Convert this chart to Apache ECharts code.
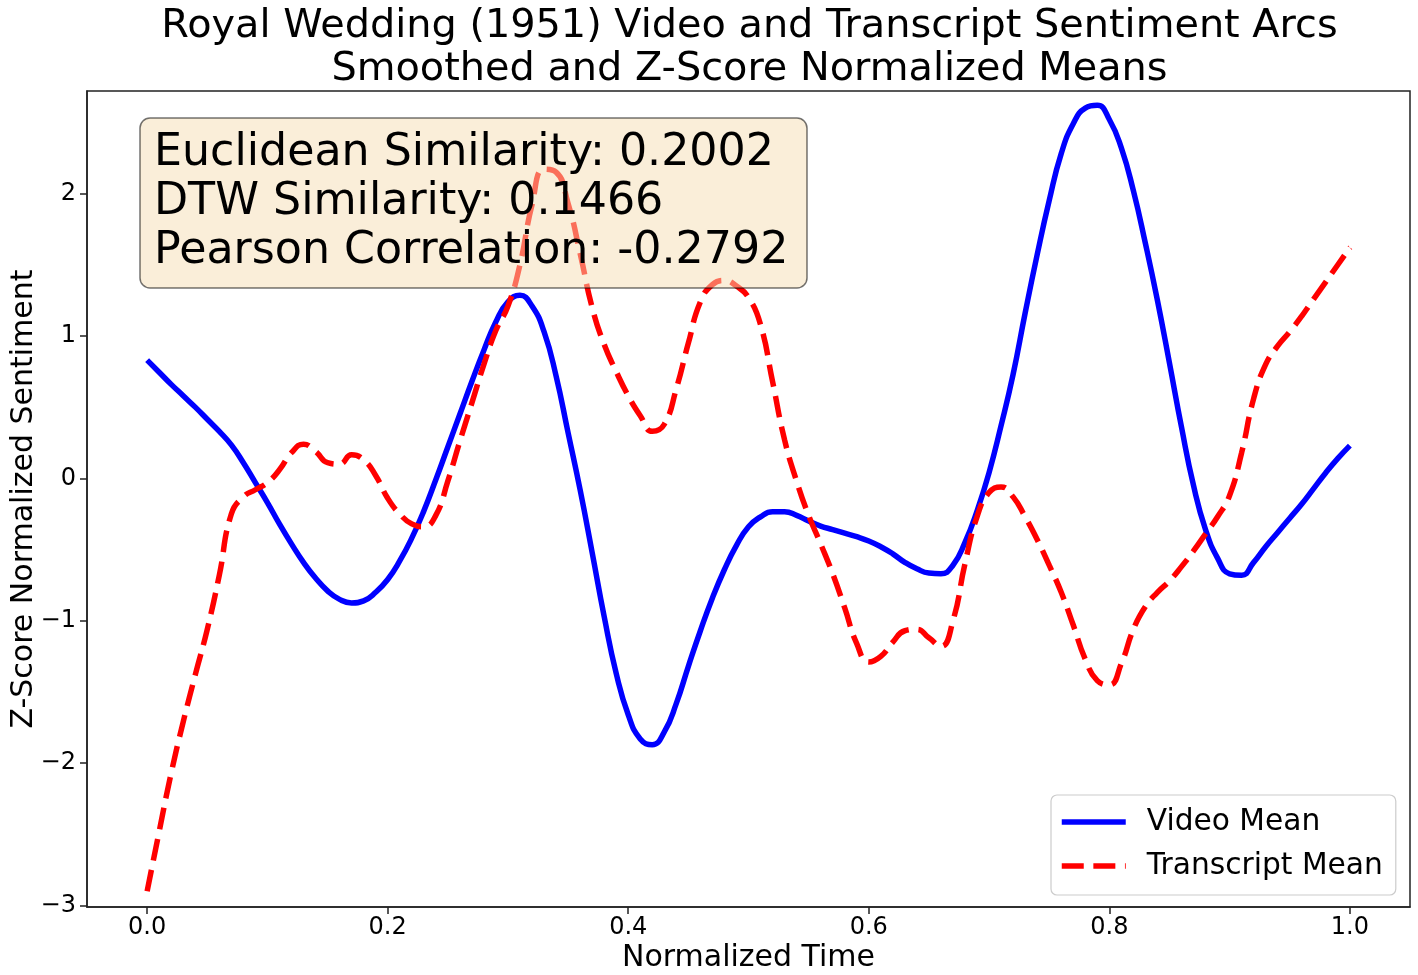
<!DOCTYPE html>
<html>
<head>
<meta charset="utf-8">
<script src="https://cdn.jsdelivr.net/npm/echarts@6/dist/echarts.min.js"></script>
<style>
  html, body { margin: 0; padding: 0; background: #ffffff; }
  #chart { width: 1418px; height: 975px; }
</style>
</head>
<body>
<div id="chart"></div>
<script>
// normalized time grid
const times = [
  0.00, 0.01, 0.02, 0.03, 0.04, 0.05, 0.06, 0.07, 0.08, 0.09,
  0.10, 0.11, 0.12, 0.13, 0.14, 0.15, 0.16, 0.17, 0.18, 0.19,
  0.20, 0.21, 0.22, 0.23, 0.24, 0.25, 0.26, 0.27, 0.28, 0.29,
  0.30, 0.31, 0.32, 0.33, 0.34, 0.35, 0.36, 0.37, 0.38, 0.39,
  0.40, 0.41, 0.42, 0.43, 0.44, 0.45, 0.46, 0.47, 0.48, 0.49,
  0.50, 0.51, 0.52, 0.53, 0.54, 0.55, 0.56, 0.57, 0.58, 0.59,
  0.60, 0.61, 0.62, 0.63, 0.64, 0.65, 0.66, 0.67, 0.68, 0.69,
  0.70, 0.71, 0.72, 0.73, 0.74, 0.75, 0.76, 0.77, 0.78, 0.79,
  0.80, 0.81, 0.82, 0.83, 0.84, 0.85, 0.86, 0.87, 0.88, 0.89,
  0.90, 0.91, 0.92, 0.93, 0.94, 0.95, 0.96, 0.97, 0.98, 0.99,
  1.00
]

// Video Mean (blue, solid)
const videoMean = [
  0.83, 0.745, 0.66, 0.58, 0.50, 0.415, 0.33, 0.235, 0.11, -0.03,
  -0.17, -0.32, -0.46, -0.59, -0.70, -0.79, -0.85, -0.875, -0.86, -0.80,
  -0.71, -0.58, -0.42, -0.23, -0.01, 0.22, 0.45, 0.68, 0.90, 1.10,
  1.24, 1.285, 1.21, 1.03, 0.72, 0.32, -0.08, -0.52, -0.97, -1.37,
  -1.66, -1.83, -1.87, -1.78, -1.58, -1.32, -1.07, -0.84, -0.64, -0.47,
  -0.34, -0.27, -0.235, -0.235, -0.26, -0.30, -0.335, -0.36, -0.385, -0.41,
  -0.44, -0.48, -0.53, -0.59, -0.635, -0.665, -0.67, -0.61, -0.45, -0.23,
  0.04, 0.37, 0.73, 1.16, 1.57, 1.95, 2.28, 2.49, 2.60, 2.62,
  2.52, 2.32, 2.02, 1.65, 1.25, 0.81, 0.36, -0.05, -0.36, -0.56,
  -0.67, -0.68, -0.59, -0.48, -0.38, -0.28, -0.18, -0.07, 0.04, 0.14,
  0.23
]

// Transcript Mean (red, dashed)
const transcriptMean = [
  -2.90, -2.48, -2.07, -1.71, -1.38, -1.06, -0.68, -0.25, -0.13, -0.08,
  -0.03, 0.06, 0.18, 0.24, 0.19, 0.11, 0.10, 0.165, 0.13, 0.02,
  -0.14, -0.25, -0.32, -0.34, -0.26, -0.02, 0.26, 0.53, 0.80, 1.04,
  1.21, 1.50, 1.92, 2.17, 2.15, 1.93, 1.58, 1.20, 0.94, 0.75,
  0.58, 0.44, 0.33, 0.38, 0.63, 0.95, 1.24, 1.36, 1.39, 1.35,
  1.27, 1.08, 0.68, 0.27, -0.02, -0.26, -0.46, -0.67, -0.91, -1.16,
  -1.29, -1.25, -1.15, -1.07, -1.06, -1.12, -1.18, -1.00, -0.60, -0.27,
  -0.10, -0.06, -0.13, -0.27, -0.43, -0.61, -0.80, -1.03, -1.27, -1.42,
  -1.45, -1.30, -1.06, -0.90, -0.80, -0.72, -0.62, -0.51, -0.39, -0.27,
  -0.12, 0.18, 0.56, 0.80, 0.93, 1.03, 1.14, 1.26, 1.38, 1.50,
  1.62
]

const xTicks = [0.0, 0.2, 0.4, 0.6, 0.8, 1.0]
const yTicks = [-3, -2, -1, 0, 1, 2]

const statLines = [
  'Euclidean Similarity: 0.2002',
  'DTW Similarity: 0.1466',
  'Pearson Correlation: -0.2792'
]

const FONT = 'DejaVu Sans'

let chart = echarts.init(document.getElementById('chart'), null, { renderer: 'canvas' })

function pairs(ys) {
  return times.map((t, i) => [t, ys[i]])
}

// stats box drawn on top of the lines, half transparent like the original
let boxTexts = statLines.map((s, i) => ({
  type: 'text',
  z: 101,
  x: 154,
  y: 153 + i * 49,
  style: {
    text: s,
    font: '44.3px "' + FONT + '"',
    fill: '#000000',
    verticalAlign: 'middle',
    align: 'left'
  }
}))

let option = {
  backgroundColor: '#ffffff',
  animation: false,
  title: {
    text: 'Royal Wedding (1951) Video and Transcript Sentiment Arcs\nSmoothed and Z-Score Normalized Means',
    left: 744.5,
    top: 0,
    textAlign: 'center',
    textStyle: {
      fontFamily: FONT,
      fontSize: 39.8,
      fontWeight: 'normal',
      color: '#000000',
      lineHeight: 43
    }
  },
  grid: {
    left: 87,
    right: 8,
    top: 91,
    bottom: 68,
    outerBoundsMode: 'none',
    containLabel: false,
    show: true,
    borderColor: '#222222',
    borderWidth: 1.5,
    backgroundColor: 'transparent'
  },
  legend: {
    orient: 'vertical',
    left: 1051,
    top: 795,
    padding: [12, 13, 14, 8],
    itemWidth: 64,
    itemHeight: 20,
    itemGap: 14,
    backgroundColor: 'rgba(255,255,255,0.8)',
    borderColor: '#cccccc',
    borderWidth: 1.2,
    borderRadius: 6,
    itemStyle: { opacity: 0 },
    lineStyle: { width: 5.5 },
    textStyle: {
      fontFamily: FONT,
      fontSize: 29.7,
      color: '#000000',
      padding: [0, 0, 0, 16]
    },
    data: ['Video Mean', 'Transcript Mean']
  },
  xAxis: {
    type: 'value',
    min: -0.05,
    max: 1.05,
    name: 'Normalized Time',
    nameLocation: 'middle',
    nameGap: 36,
    nameMoveOverlap: false,
    nameTextStyle: { fontFamily: FONT, fontSize: 30, color: '#000000' },
    axisLine: { show: true, onZero: false, lineStyle: { color: '#222222', width: 1.5 } },
    axisTick: {
      show: true,
      length: 7,
      inside: false,
      customValues: xTicks,
      lineStyle: { color: '#222222', width: 1.5 }
    },
    axisLabel: {
      customValues: xTicks,
      margin: 9,
      fontFamily: FONT,
      fontSize: 24,
      color: '#000000',
      formatter: v => v.toFixed(1)
    },
    splitLine: { show: false }
  },
  yAxis: {
    type: 'value',
    min: -3.01,
    max: 2.72,
    name: 'Z-Score Normalized Sentiment',
    nameLocation: 'middle',
    nameGap: 48,
    nameMoveOverlap: false,
    nameTextStyle: { fontFamily: FONT, fontSize: 30, color: '#000000' },
    axisLine: { show: true, onZero: false, lineStyle: { color: '#222222', width: 1.5 } },
    axisTick: {
      show: true,
      length: 7,
      inside: false,
      customValues: yTicks,
      lineStyle: { color: '#222222', width: 1.5 }
    },
    axisLabel: {
      customValues: yTicks,
      margin: 11,
      fontFamily: FONT,
      fontSize: 24,
      color: '#000000',
      formatter: v => String(v).replace('-', '\u2212')
    },
    splitLine: { show: false }
  },
  series: [
    {
      name: 'Video Mean',
      type: 'line',
      data: pairs(videoMean),
      symbol: 'none',
      smooth: 0.5,
      lineStyle: { color: '#0000ff', width: 5.5 },
      itemStyle: { color: '#0000ff' },
      z: 3
    },
    {
      name: 'Transcript Mean',
      type: 'line',
      data: pairs(transcriptMean),
      symbol: 'none',
      smooth: 0.5,
      lineStyle: { color: '#ff0000', width: 5.5, type: [22, 9.6] },
      itemStyle: { color: '#ff0000' },
      z: 4
    }
  ],
  graphic: [
    {
      type: 'rect',
      z: 100,
      shape: { x: 140, y: 118, width: 667, height: 170, r: 10 },
      style: {
        fill: 'rgba(245,222,179,0.5)',
        stroke: 'rgba(0,0,0,0.55)',
        lineWidth: 1.5
      }
    }
  ].concat(boxTexts)
}

chart.setOption(option)
</script>
</body>
</html>
